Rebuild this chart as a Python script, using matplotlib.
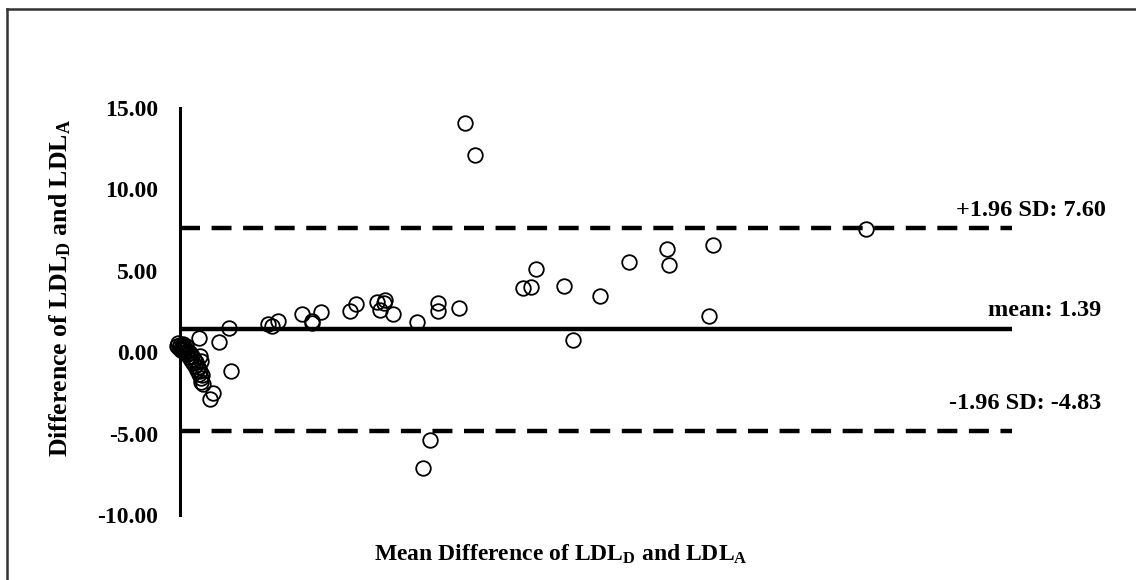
import numpy as np
import matplotlib
matplotlib.use("Agg")
import matplotlib.pyplot as plt
import matplotlib.transforms as mtrans
from matplotlib.lines import Line2D

plt.rcParams['font.family'] = ['Liberation Serif', 'DejaVu Serif']
plt.rcParams['font.weight'] = 'bold'
plt.rcParams['mathtext.fontset'] = 'custom'
plt.rcParams['mathtext.rm'] = 'Liberation Serif:bold'
plt.rcParams['mathtext.it'] = 'Liberation Serif:bold'
plt.rcParams['mathtext.bf'] = 'Liberation Serif:bold'

# mean of the two measurements (arbitrary units, axis has no tick labels)
mean_vals = [34.25, 35.46, 82.45, 64.06, 58.53, 58.77, 53.97, 42.79, 41.23, 42.19,
             46.15, 50.48, 63.58, 47.24, 33.53, 31.01, 31.01, 28.49, 30.05, 29.21,
             10.58, 11.78, 11.06, 14.66, 15.87, 15.87, 16.95, 20.43, 21.15, 23.68,
             24.64, 24.52, 24.04, 25.60,
             2.28, 4.69, 5.89, 6.13, 3.97, 3.61,
             -0.36, -0.24, -0.12, 0.00, 0.12, 0.24, 0.36, 0.48, 0.60, 0.72,
             0.84, 0.96, 1.08, 1.20, 1.32, 1.44, 1.56, 1.68, 1.80, 1.92,
             2.04, 2.16, 2.28, 2.40, 2.52, 2.64, 2.52, 2.76, 2.40, 2.52,
             0.10, 0.30, 0.50]
diff_vals = [14.07, 12.11, 7.56, 6.58, 6.33, 5.35, 5.53, 5.10, 3.93, 3.99,
             4.06, 3.44, 2.21, 0.74, 2.70, 3.01, 2.52, 1.84, -5.41, -7.13,
             1.72, 1.91, 1.60, 2.34, 1.91, 1.78, 2.46, 2.52, 2.95, 3.07,
             3.20, 3.01, 2.58, 2.34,
             0.86, 0.61, 1.47, -1.17, -2.52, -2.89,
             0.37, 0.55, 0.25, 0.43, 0.12, 0.31, 0.49, 0.00, 0.18, 0.37,
             -0.12, 0.06, -0.31, -0.06, -0.49, -0.25, -0.68, -0.43, -0.86, -0.61,
             -1.11, -0.92, -1.35, -1.17, -1.60, -1.41, -1.84, -1.97, -0.25, -0.55,
             0.20, 0.10, 0.30]

mean_diff = 1.39
upper = 7.60
lower = -4.83
ref_labels = ['+1.96 SD: 7.60', 'mean: 1.39', '-1.96 SD: -4.83']
y_ticks = [-10, -5, 0, 5, 10, 15]

fig = plt.figure(figsize=(11.36, 5.8), dpi=100)
ax = fig.add_axes([0.1585, 0.112, 0.7323, 0.7026])

ax.plot(mean_vals, diff_vals, 'o', mfc='none', mec='black', ms=10.5, mew=1.3,
        clip_on=False, zorder=3)

ax.axhline(mean_diff, color='black', lw=3.2, zorder=2)
for v in (upper, lower):
    ax.axhline(v, color='black', lw=3.2, ls=(0, (4.5, 2.6)), zorder=2)

ax.set_xlim(0, 100)
ax.set_ylim(-10, 15)
ax.set_yticks(y_ticks)
ax.set_yticklabels(['%.2f' % t for t in y_ticks])
ax.tick_params(axis='y', length=0, pad=16, labelsize=17)
ax.set_xticks([])
for s in ('top', 'right', 'bottom'):
    ax.spines[s].set_visible(False)
ax.spines['left'].set_linewidth(2.2)

blend = mtrans.blended_transform_factory(ax.transAxes, ax.transData)
ref_vals = [upper, mean_diff, lower]
offsets = [5, 6, 12]
right_x = [1.1125, 1.107, 1.107]
for lab, v, off, rx in zip(ref_labels, ref_vals, offsets, right_x):
    ax.annotate(lab, xy=(rx, v), xycoords=blend, xytext=(0, off),
                textcoords='offset points', ha='right', va='bottom',
                fontsize=17.5, fontweight='bold', annotation_clip=False)

fig.text(0.053, 0.503, r'Difference of LDL$_\mathrm{D}$ and LDL$_\mathrm{A}$',
         rotation=90, ha='center', va='center', fontsize=18.5, fontweight='bold')
fig.text(0.494, 0.045, r'Mean Difference of LDL$_\mathrm{D}$ and LDL$_\mathrm{A}$',
         ha='center', va='center', fontsize=17, fontweight='bold')

# frame edges of the cropped image (top and left only)
fig.add_artist(Line2D([7 / 1136, 1], [1 - 9 / 580, 1 - 9 / 580],
                      transform=fig.transFigure, color='#333333', lw=1.8))
fig.add_artist(Line2D([7 / 1136, 7 / 1136], [0, 1 - 9 / 580],
                      transform=fig.transFigure, color='#333333', lw=1.8))

fig.savefig('out.png', dpi=100)
